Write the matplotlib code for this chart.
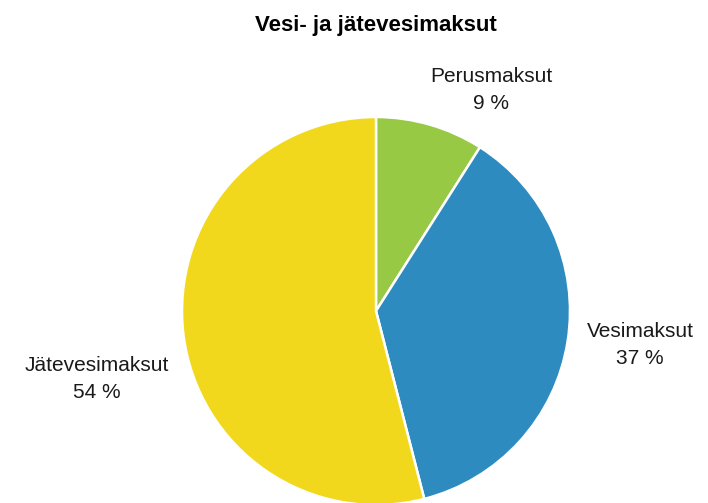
import matplotlib.pyplot as plt

labels = ["Perusmaksut", "Vesimaksut", "Jätevesimaksut"]
values = [9, 37, 54]
colors = ["#97c945", "#2d8bbf", "#f2d81c"]

# label centres in pixel coords (x, y from top)
label_pos = [(491, 90), (640, 345), (97, 379)]

W, H = 708, 503
fig = plt.figure(figsize=(W / 100, H / 100), dpi=100)
ax = fig.add_axes([0, 0, 1, 1])

ax.pie(values, colors=colors, startangle=90, counterclock=False,
       center=(376, H - 311), radius=194, frame=True,
       wedgeprops={"edgecolor": "white", "linewidth": 1.8})
ax.set_xlim(0, W)
ax.set_ylim(0, H)
ax.set_aspect("equal")
ax.axis("off")

for lab, v, (x, y) in zip(labels, values, label_pos):
    ax.text(x, H - y, f"{lab}\n{v} %", ha="center", va="center",
            fontsize=15, family="Liberation Sans", color="#1a1a1a",
            linespacing=1.55)

ax.text(376, H - 25, "Vesi- ja jätevesimaksut", ha="center", va="center",
        fontsize=16, fontweight="bold", family="Liberation Sans", color="black")

fig.savefig("out.png", dpi=100)
